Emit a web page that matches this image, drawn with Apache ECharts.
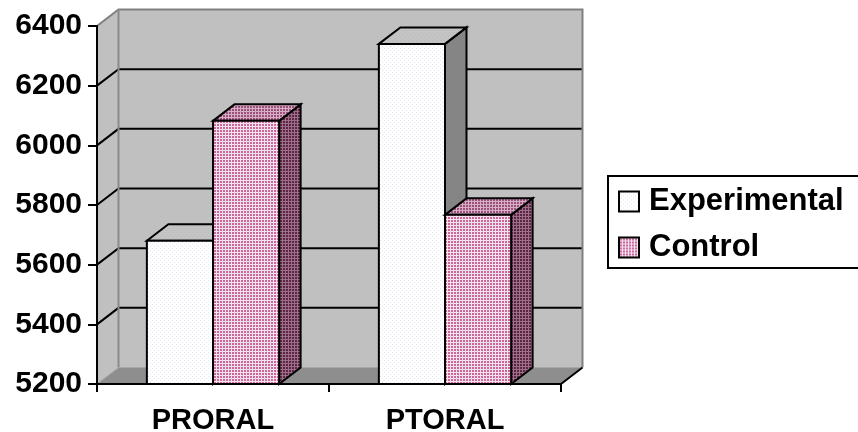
<!DOCTYPE html>
<html>
<head>
<meta charset="utf-8">
<script src="https://cdn.jsdelivr.net/npm/echarts@6/dist/echarts.min.js"></script>
<style>
  html, body { margin: 0; padding: 0; background: #ffffff; overflow: hidden; }
  #chart { width: 858px; height: 432px; }
</style>
</head>
<body>
<div id="chart"></div>
<script>
// Category labels and series values
const categories = ['PRORAL', 'PTORAL'];
const experimental = [5680, 6340];
const control = [6082, 5767];
// Value-axis ticks
const yTicks = [5200, 5400, 5600, 5800, 6000, 6200, 6400];

const FONT = "'Liberation Sans', Arial, sans-serif";
// Perspective depth offset of the 3-D box (pixels)
const DX = 21.5, DY = -16.5;

// Small repeating tiles used as hatch fills
function makeTile(size, bg, fg, draw) {
  const c = document.createElement('canvas');
  c.width = size; c.height = size;
  const g = c.getContext('2d');
  g.fillStyle = bg; g.fillRect(0, 0, size, size);
  g.fillStyle = fg; draw(g);
  return { image: c, repeat: 'repeat' };
}
function gridTile(cell, line) {
  return makeTile(3, cell, line, g => { g.fillRect(0, 0, 3, 1); g.fillRect(0, 0, 1, 3); });
}
function dotTile(bg, dot) {
  return makeTile(4, bg, dot, g => { g.fillRect(0, 0, 1, 1); g.fillRect(2, 2, 1, 1); });
}

const fills = {
  Experimental: {
    front: dotTile('#ffffff', '#e4e4f4'),
    top: dotTile('#c4c4c4', '#b8b8bc'),
    side: '#858585'
  },
  Control: {
    front: gridTile('#c8699a', '#f6e2ee'),
    top: gridTile('#9a5079', '#d6aec6'),
    side: gridTile('#5e2444', '#9c7088')
  }
};

// Walls, floor and back-wall grid of the 3-D plot area
function renderWalls(params, api) {
  const cs = params.coordSys;
  const x0 = cs.x, x1 = cs.x + cs.width;
  const yTop = cs.y, yBot = cs.y + cs.height;
  const children = [];
  // left side wall
  children.push({ type: 'polygon', shape: { points: [[x0, yTop], [x0 + DX, yTop + DY], [x0 + DX, yBot + DY], [x0, yBot]] },
    style: { fill: '#c0c0c0', stroke: null } });
  // back wall
  children.push({ type: 'rect', shape: { x: x0 + DX, y: yTop + DY, width: cs.width, height: cs.height },
    style: { fill: '#c0c0c0', stroke: null } });
  // floor
  children.push({ type: 'polygon', shape: { points: [[x0, yBot], [x1, yBot], [x1 + DX, yBot + DY], [x0 + DX, yBot + DY]] },
    style: { fill: '#8e8e8e', stroke: null } });
  // grid lines on back and side walls
  yTicks.slice(1, -1).forEach(v => {
    const y = api.coord([0, v])[1];
    children.push({ type: 'polyline', shape: { points: [[x0, y], [x0 + DX, y + DY], [x1 + DX, y + DY]] },
      style: { stroke: '#000000', lineWidth: 2, fill: null } });
  });
  // wall outlines
  children.push({ type: 'polyline', shape: { points: [[x0, yTop], [x0 + DX, yTop + DY], [x1 + DX, yTop + DY], [x1 + DX, yBot + DY]] },
    style: { stroke: '#808080', lineWidth: 2, fill: null } });
  children.push({ type: 'line', shape: { x1: x0 + DX, y1: yTop + DY, x2: x0 + DX, y2: yBot + DY },
    style: { stroke: '#8a8a8a', lineWidth: 2 } });
  children.push({ type: 'polyline', shape: { points: [[x0, yBot], [x0 + DX, yBot + DY], [x1 + DX, yBot + DY]] },
    style: { stroke: '#a8a8a8', lineWidth: 1, fill: null } });
  // floor right edge
  children.push({ type: 'line', shape: { x1: x1, y1: yBot, x2: x1 + DX, y2: yBot + DY },
    style: { stroke: '#000000', lineWidth: 2 } });
  return { type: 'group', children };
}

// 3-D column: front face, top face and right side face
function barRenderer(seriesIdx, name) {
  return function (params, api) {
    const idx = api.value(0), v = api.value(1);
    const top = api.coord([idx, v]);
    const base = api.coord([idx, yTicks[0]]);
    const band = api.size([1, 0])[0];
    const w = band * 0.285;
    const left = top[0] + (seriesIdx === 0 ? -w : 0);
    const right = left + w;
    const yT = top[1], yB = base[1];
    const f = fills[name];
    const st = { stroke: '#000000', lineWidth: 2, lineJoin: 'miter' };
    return {
      type: 'group',
      children: [
        { type: 'polygon', shape: { points: [[right, yT], [right + DX, yT + DY], [right + DX, yB + DY], [right, yB]] },
          style: Object.assign({ fill: f.side }, st) },
        { type: 'polygon', shape: { points: [[left, yT], [left + DX, yT + DY], [right + DX, yT + DY], [right, yT]] },
          style: Object.assign({ fill: f.top }, st) },
        { type: 'rect', shape: { x: left, y: yT, width: w, height: yB - yT },
          style: Object.assign({ fill: f.front }, st) }
      ]
    };
  };
}

const chart = echarts.init(document.getElementById('chart'), null, { renderer: 'canvas' });
chart.setOption({
  backgroundColor: '#ffffff',
  animation: false,
  grid: { left: 97, right: 297, top: 26, bottom: 48, containLabel: false, outerBoundsMode: 'none' },
  // legend frame; it runs off the right edge of the canvas
  graphic: [{
    type: 'polyline', z: 20, silent: true,
    shape: { points: [[900, 176], [608, 176], [608, 268], [900, 268]] },
    style: { fill: null, stroke: '#000000', lineWidth: 2 }
  }],
  legend: {
    orient: 'vertical',
    left: 608, top: 176,
    padding: [10, 10, 6, 10],
    borderWidth: 0, backgroundColor: 'transparent',
    itemWidth: 20, itemHeight: 20, itemGap: 15,
    icon: 'rect',
    textStyle: { fontFamily: FONT, fontWeight: 'bold', fontSize: 31, color: '#000000', lineHeight: 30, padding: [0, 0, 0, 5] },
    data: [
      { name: 'Experimental', itemStyle: { color: fills.Experimental.front, borderColor: '#000000', borderWidth: 2 } },
      { name: 'Control', itemStyle: { color: fills.Control.front, borderColor: '#000000', borderWidth: 2 } }
    ]
  },
  xAxis: {
    type: 'category',
    data: categories,
    boundaryGap: true,
    axisLine: { show: false },
    axisTick: { show: true, interval: 0, length: 8, lineStyle: { color: '#000000', width: 2 } },
    axisLabel: { fontFamily: FONT, fontWeight: 'bold', fontSize: 29, color: '#000000', margin: 22 },
    splitLine: { show: false },
    z: 10
  },
  yAxis: {
    type: 'value',
    min: yTicks[0], max: yTicks[yTicks.length - 1], interval: 200,
    axisLine: { show: true, lineStyle: { color: '#000000', width: 2 } },
    axisTick: { show: true, length: 9, lineStyle: { color: '#000000', width: 2 } },
    axisLabel: { fontFamily: FONT, fontWeight: 'bold', fontSize: 30, color: '#000000', margin: 15,
      formatter: v => String(v) },
    splitLine: { show: false },
    z: 10
  },
  series: [
    { type: 'custom', name: 'walls', renderItem: renderWalls, data: [[0, yTicks[0]]], clip: false, silent: true, z: 1 },
    { type: 'custom', name: 'Experimental', renderItem: barRenderer(0, 'Experimental'),
      itemStyle: { color: '#f4f4fb' },
      data: experimental.map((v, i) => [i, v]), clip: false, z: 3 },
    { type: 'custom', name: 'Control', renderItem: barRenderer(1, 'Control'),
      itemStyle: { color: '#d890b8' },
      data: control.map((v, i) => [i, v]), clip: false, z: 4 },
    // front edge of the floor along the category axis
    { type: 'custom', name: 'floorEdge', silent: true, clip: false, z: 5, data: [[0, yTicks[0]]],
      renderItem: (params, api) => {
        const cs = params.coordSys;
        return { type: 'line', shape: { x1: cs.x, y1: cs.y + cs.height, x2: cs.x + cs.width, y2: cs.y + cs.height },
          style: { stroke: '#000000', lineWidth: 2 } };
      } }
  ]
});
</script>
</body>
</html>
